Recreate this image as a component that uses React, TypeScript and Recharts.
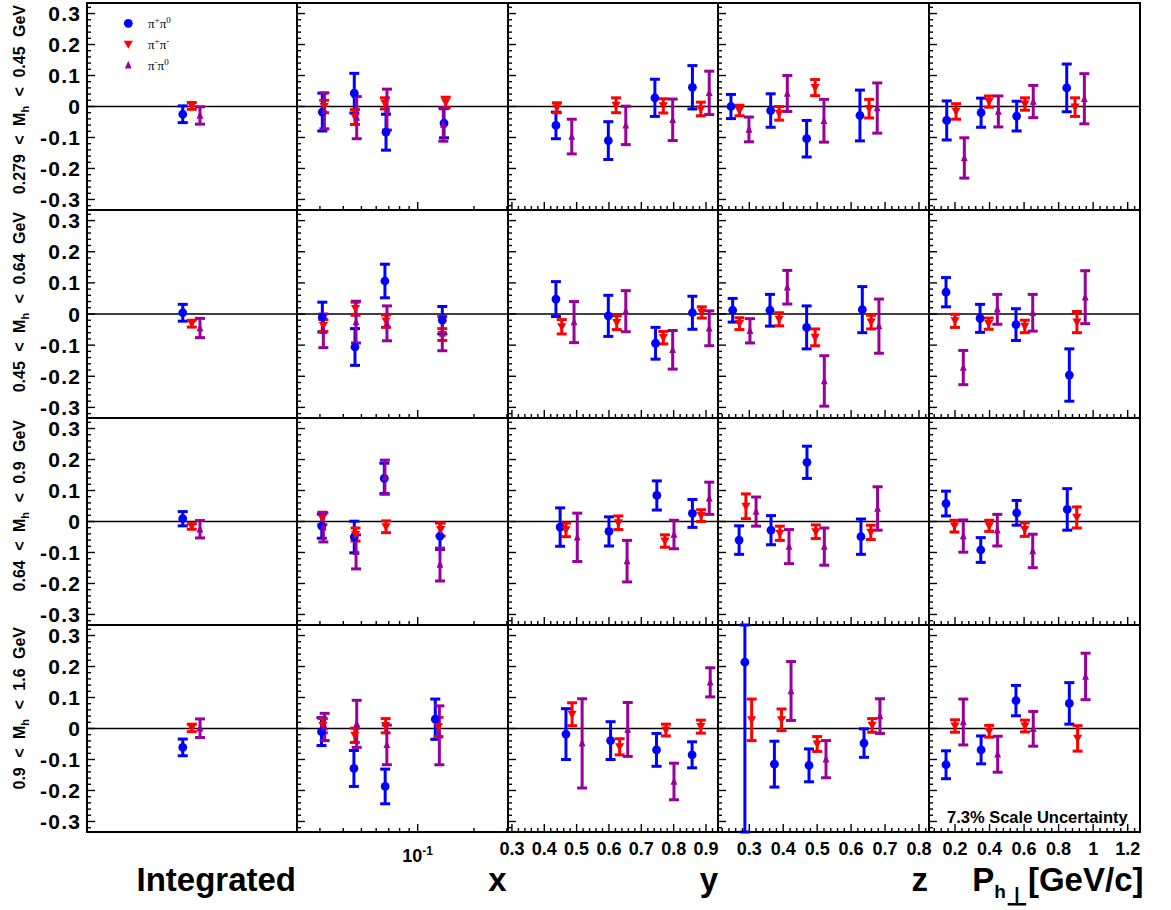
import React from 'react';
import { ScatterChart, Scatter, XAxis, YAxis, ErrorBar, ReferenceLine, ReferenceArea, Legend } from 'recharts';

const BLUE = '#0000ff';
const RED = '#ff0000';
const PURPLE = '#990099';
const SANS = '"Liberation Sans", Arial, Helvetica, sans-serif';
const SERIF = '"Liberation Serif", "Times New Roman", serif';

// ---------- text ----------
const seriesNames = ['π⁺π⁰', 'π⁺π⁻', 'π⁻π⁰'];
const seriesCharges = [['+', '0'], ['+', '-'], ['-', '0']];
const massLow = ['0.279', '0.45', '0.64', '0.9'];
const massHigh = ['0.45', '0.64', '0.9', '1.6'];
const colTitles = ['Integrated', 'x', 'y', 'z', 'P'];
const scaleNote = '7.3% Scale Uncertainty';

// ---------- ticks ----------
const yMajor = [-0.3, -0.2, -0.1, 0, 0.1, 0.2, 0.3];
const yMajorLabels = ['-0.3', '-0.2', '-0.1', '0', '0.1', '0.2', '0.3'];
const xLogTicks = [0.03, 0.04, 0.05, 0.06, 0.07, 0.08, 0.09, 0.1, 0.2, 0.3];
const xLogMajor = [0.1];
const xLogLabels = ['10^-1'];
const yBinMajor = [0.3, 0.4, 0.5, 0.6, 0.7, 0.8, 0.9];
const yBinLabels = ['0.3', '0.4', '0.5', '0.6', '0.7', '0.8', '0.9'];
const zBinMajor = [0.3, 0.4, 0.5, 0.6, 0.7, 0.8];
const zBinLabels = ['0.3', '0.4', '0.5', '0.6', '0.7', '0.8'];
const phMajor = [0.2, 0.4, 0.6, 0.8, 1.0, 1.2];
const phLabels = ['0.2', '0.4', '0.6', '0.8', '1', '1.2'];

const steps = (a: number, b: number, s: number) => {
  const out: number[] = [];
  for (let i = 0; a + i * s <= b + 1e-9; i++) out.push(+(a + i * s).toFixed(4));
  return out;
};
const yTicks = steps(-0.32, 0.32, 0.02);

// ---------- data: rows = Mh bins (top→bottom); points [x, asymmetry, error] ----------
// Integrated column
const integratedX = [0.456, 0.499, 0.538];
const intPipPi0 = [[-0.025, 0.027], [0.004, 0.027], [0.009, 0.023], [-0.061, 0.027]];
const intPipPim = [[0.002, 0.011], [-0.031, 0.011], [-0.016, 0.009], [0.002, 0.012]];
const intPimPi0 = [[-0.029, 0.028], [-0.045, 0.031], [-0.025, 0.028], [0.001, 0.03]];

// x bins
const xPipPi0 = [
  [[0.0309, -0.018, 0.061], [0.0458, 0.043, 0.064], [0.0677, -0.083, 0.058], [0.1383, -0.054, 0.047]],
  [[0.0309, -0.010, 0.048], [0.0462, -0.106, 0.059], [0.0668, 0.106, 0.054], [0.1354, -0.020, 0.044]],
  [[0.0307, -0.015, 0.039], [0.0458, -0.050, 0.051], [0.0663, 0.139, 0.049], [0.1316, -0.047, 0.043]],
  [[0.0306, -0.010, 0.045], [0.0456, -0.129, 0.058], [0.0670, -0.187, 0.056], [0.1242, 0.030, 0.065]],
];
const xPipPim = [
  [[0.0316, 0.000, 0.020], [0.0462, -0.034, 0.024], [0.0668, 0.010, 0.018], [0.1412, 0.013, 0.017]],
  [[0.0313, -0.037, 0.019], [0.0465, 0.017, 0.021], [0.0677, -0.023, 0.020], [0.1354, -0.066, 0.019]],
  [[0.0309, 0.010, 0.020], [0.0465, -0.042, 0.021], [0.0677, -0.017, 0.019], [0.1327, -0.026, 0.021]],
  [[0.0311, 0.009, 0.023], [0.0461, -0.022, 0.023], [0.0674, 0.009, 0.023], [0.1292, 0.005, 0.031]],
];
const xPimPi0 = [
  [[0.0317, -0.014, 0.058], [0.0472, -0.036, 0.068], [0.0685, -0.010, 0.066], [0.1371, -0.058, 0.054]],
  [[0.0313, -0.054, 0.054], [0.0468, -0.026, 0.067], [0.0685, -0.030, 0.056], [0.1354, -0.063, 0.055]],
  [[0.0313, -0.019, 0.047], [0.0468, -0.098, 0.055], [0.0668, 0.143, 0.055], [0.1316, -0.139, 0.053]],
  [[0.0318, 0.005, 0.044], [0.0472, 0.015, 0.076], [0.0684, -0.053, 0.064], [0.1306, -0.022, 0.095]],
];

// y bins
const yPipPi0 = [
  [[0.436, -0.061, 0.043], [0.598, -0.110, 0.061], [0.742, 0.028, 0.060], [0.858, 0.062, 0.070]],
  [[0.436, 0.048, 0.056], [0.598, -0.006, 0.066], [0.744, -0.094, 0.051], [0.858, 0.004, 0.053]],
  [[0.449, -0.018, 0.062], [0.600, -0.032, 0.047], [0.748, 0.084, 0.047], [0.858, 0.026, 0.045]],
  [[0.467, -0.018, 0.082], [0.605, -0.039, 0.061], [0.747, -0.069, 0.053], [0.857, -0.085, 0.042]],
];
const yPipPim = [
  [[0.439, -0.004, 0.016], [0.622, 0.004, 0.024], [0.768, 0.002, 0.023], [0.884, -0.008, 0.022]],
  [[0.454, -0.041, 0.023], [0.624, -0.028, 0.022], [0.768, -0.076, 0.020], [0.887, 0.005, 0.018]],
  [[0.467, -0.027, 0.022], [0.629, -0.004, 0.022], [0.773, -0.063, 0.020], [0.885, 0.019, 0.019]],
  [[0.486, 0.046, 0.037], [0.633, -0.059, 0.026], [0.776, -0.005, 0.019], [0.884, 0.006, 0.021]],
];
const yPimPi0 = [
  [[0.485, -0.097, 0.056], [0.652, -0.061, 0.062], [0.797, -0.043, 0.067], [0.910, 0.044, 0.070]],
  [[0.492, -0.026, 0.066], [0.652, 0.009, 0.066], [0.797, -0.115, 0.062], [0.910, -0.046, 0.056]],
  [[0.502, -0.051, 0.078], [0.656, -0.128, 0.067], [0.801, -0.042, 0.046], [0.910, 0.075, 0.052]],
  [[0.517, -0.048, 0.144], [0.658, -0.003, 0.087], [0.801, -0.171, 0.059], [0.913, 0.149, 0.047]],
];

// z bins
const zPipPi0 = [
  [[0.246, 0.000, 0.039], [0.363, -0.013, 0.054], [0.469, -0.104, 0.059], [0.626, -0.029, 0.082]],
  [[0.251, 0.012, 0.038], [0.361, 0.012, 0.051], [0.469, -0.043, 0.069], [0.633, 0.014, 0.074]],
  [[0.270, -0.060, 0.046], [0.364, -0.028, 0.047], [0.470, 0.191, 0.052], [0.629, -0.049, 0.057]],
  [[0.287, 0.214, 0.580], [0.374, -0.115, 0.074], [0.476, -0.119, 0.053], [0.638, -0.047, 0.046]],
];
const zPipPim = [
  [[0.271, -0.013, 0.017], [0.388, -0.022, 0.022], [0.494, 0.061, 0.026], [0.653, -0.007, 0.030]],
  [[0.271, -0.031, 0.019], [0.388, -0.017, 0.021], [0.494, -0.075, 0.027], [0.659, -0.026, 0.022]],
  [[0.290, 0.049, 0.040], [0.390, -0.038, 0.023], [0.496, -0.033, 0.022], [0.658, -0.035, 0.023]],
  [[0.307, 0.028, 0.067], [0.395, 0.028, 0.035], [0.500, -0.050, 0.024], [0.662, 0.010, 0.022]],
];
const zPimPi0 = [
  [[0.299, -0.074, 0.040], [0.412, 0.042, 0.058], [0.520, -0.046, 0.069], [0.677, -0.005, 0.081]],
  [[0.302, -0.054, 0.039], [0.412, 0.086, 0.054], [0.521, -0.215, 0.081], [0.682, -0.039, 0.087]],
  [[0.320, 0.032, 0.047], [0.417, -0.081, 0.055], [0.521, -0.081, 0.060], [0.678, 0.042, 0.070]],
  [null, [0.423, 0.121, 0.095], [0.526, -0.099, 0.060], [0.685, 0.040, 0.056]],
];

// Ph-perp bins
const phPipPi0 = [
  [[0.152, -0.045, 0.063], [0.351, -0.020, 0.047], [0.557, -0.031, 0.048], [0.847, 0.060, 0.077]],
  [[0.148, 0.070, 0.047], [0.345, -0.014, 0.045], [0.553, -0.034, 0.051], [0.862, -0.196, 0.084]],
  [[0.148, 0.058, 0.040], [0.349, -0.092, 0.040], [0.557, 0.028, 0.040], [0.850, 0.039, 0.067]],
  [[0.148, -0.117, 0.045], [0.351, -0.069, 0.045], [0.553, 0.090, 0.049], [0.862, 0.081, 0.067]],
];
const phPipPim = [
  [[0.206, -0.016, 0.025], [0.397, 0.016, 0.018], [0.605, 0.008, 0.020], [0.895, -0.002, 0.030]],
  [[0.200, -0.022, 0.021], [0.395, -0.031, 0.018], [0.604, -0.040, 0.020], [0.906, -0.026, 0.034]],
  [[0.197, -0.015, 0.019], [0.398, -0.014, 0.018], [0.604, -0.026, 0.022], [0.905, 0.013, 0.034]],
  [[0.200, 0.008, 0.020], [0.398, -0.009, 0.019], [0.605, 0.008, 0.019], [0.910, -0.032, 0.041]],
];
const phPimPi0 = [
  [[0.254, -0.166, 0.065], [0.451, -0.016, 0.050], [0.653, 0.016, 0.052], [0.949, 0.025, 0.081]],
  [[0.248, -0.172, 0.055], [0.445, 0.015, 0.048], [0.650, 0.004, 0.059], [0.954, 0.054, 0.085]],
  [[0.248, -0.047, 0.052], [0.445, -0.028, 0.051], [0.650, -0.095, 0.054], null],
  [[0.248, 0.021, 0.074], [0.447, -0.083, 0.058], [0.653, -0.001, 0.056], [0.956, 0.168, 0.075]],
];

// ---------- layout ----------
const colEdges = [87, 297, 508, 718, 929, 1140];
const rowEdges = [3, 210, 418, 625, 832];
const Y_DOMAIN: [number, number] = [-0.334, 0.334];
const colDomains: [number, number][] = [
  [0, 1],
  [0.02262, 0.3041],
  [0.2878, 0.9371],
  [0.2078, 0.8295],
  [0.0494, 1.2712],
];
const colTickSets: (number[] | null)[] = [
  null,
  xLogTicks,
  steps(0.3, 0.92, 0.02),
  steps(0.22, 0.82, 0.02),
  steps(0.08, 1.24, 0.04),
];
const colMajor = [[], xLogMajor, yBinMajor, zBinMajor, phMajor];
const colLabels = [[], xLogLabels, yBinLabels, zBinLabels, phLabels];
const titleShift = [-1, -1.5, 0, -1, 3.5];

const intTables = [intPipPi0, intPipPim, intPimPi0];
const integratedRows = (s: number) => intTables[s].map(([v, e]) => [[integratedX[s], v, e]]);
const columnSeries: any[][] = [
  [0, 1, 2].map(integratedRows),
  [xPipPi0, xPipPim, xPimPi0],
  [yPipPi0, yPipPim, yPimPi0],
  [zPipPi0, zPipPim, zPimPi0],
  [phPipPi0, phPipPim, phPimPi0],
];
const seriesColors = [BLUE, RED, PURPLE];

// error bars are limited to the visible frame (they run off the pad in the original)
const toPoints = (rows: any[]) =>
  rows
    .filter((p: any) => p)
    .map(([x, y, err]: number[]) => ({
      x,
      y,
      err: [Math.min(err, y - Y_DOMAIN[0]), Math.min(err, Y_DOMAIN[1] - y)],
    }));

// ---------- marker shapes ----------
const CircleMark = (p: any) => <circle cx={p.cx} cy={p.cy} r={4.4} fill={BLUE} />;
const DownTri = (p: any) => (
  <path d={`M${p.cx - 4.6},${p.cy - 3.6}L${p.cx + 4.6},${p.cy - 3.6}L${p.cx},${p.cy + 4.4}Z`} fill={RED} />
);
const UpTri = (p: any) => (
  <path d={`M${p.cx - 3.4},${p.cy + 3.2}L${p.cx + 3.4},${p.cy + 3.2}L${p.cx},${p.cy - 4.6}Z`} fill={PURPLE} />
);
const shapes = [CircleMark, DownTri, UpTri];

// ---------- ticks ----------
const isIn = (arr: number[], v: number) => arr.findIndex((m) => Math.abs(m - v) < 1e-6);

function XTick(props: any) {
  const { x, y, payload, major, labels, showLabels } = props;
  const idx = isIn(major, payload.value);
  const isMajor = idx >= 0;
  const lab: string = isMajor ? labels[idx] : '';
  let text: any = null;
  if (showLabels && isMajor) {
    if (lab.includes('^')) {
      const [base, exp] = lab.split('^');
      text = (
        <text x={x} y={y + 29.7} textAnchor="middle" fontFamily={SANS} fontWeight="bold" fontSize={18}>
          {base}
          <tspan fontSize={12} dy={-6.7}>{exp}</tspan>
        </text>
      );
    } else {
      text = (
        <text x={x} y={y + 23} textAnchor="middle" fontFamily={SANS} fontWeight="bold" fontSize={18}>
          {lab}
        </text>
      );
    }
  }
  return (
    <g>
      <line x1={x} y1={y} x2={x} y2={y - (isMajor ? 8 : 4)} stroke="#000" strokeWidth={1.4} />
      {text}
    </g>
  );
}

function YTick(props: any) {
  const { x, y, payload, showLabels } = props;
  const idx = isIn(yMajor, payload.value);
  const isMajor = idx >= 0;
  return (
    <g>
      <line x1={x} y1={y} x2={x + (isMajor ? 8 : 4)} y2={y} stroke="#000" strokeWidth={1.4} />
      {showLabels && isMajor && (
        <text
          x={x - 5.7}
          y={y}
          dy="0.36em"
          textAnchor="end"
          fontFamily={SANS}
          fontWeight="bold"
          fontSize={21}
          letterSpacing={1.3}
        >
          {yMajorLabels[idx]}
        </text>
      )}
    </g>
  );
}

// ---------- titles ----------
function RowTitle(props: any) {
  const { viewBox, r } = props;
  const x = viewBox.x + viewBox.width - 62;
  const y = viewBox.y + 2;
  return (
    <text
      x={x}
      y={y}
      transform={`rotate(-90 ${x} ${y})`}
      textAnchor="end"
      fontFamily={SANS}
      fontWeight="bold"
      fontSize={16}
      style={{ wordSpacing: '5px' }}
    >
      {`${massLow[r]} < M`}
      <tspan fontSize={11} dy={4}>h</tspan>
      <tspan dy={-4}>{` < ${massHigh[r]} GeV`}</tspan>
    </text>
  );
}

function ColTitle(props: any) {
  const { viewBox, c } = props;
  const x = viewBox.x + viewBox.width + titleShift[c];
  const y = viewBox.y + 59;
  if (c === 4) {
    return (
      <text x={x} y={y} textAnchor="end" fontFamily={SANS} fontWeight="bold" fontSize={33}>
        {colTitles[c]}
        <tspan fontSize={19} dy={7}>h</tspan>
        <tspan fontSize={25} dy={6.5}>⊥</tspan>
        <tspan dy={-13.5}>[GeV/c]</tspan>
      </text>
    );
  }
  return (
    <text x={x} y={y} textAnchor="end" fontFamily={SANS} fontWeight="bold" fontSize={33}>
      {colTitles[c]}
    </text>
  );
}

function ScaleNote(props: any) {
  const { viewBox } = props;
  return (
    <text
      x={viewBox.x + 18}
      y={viewBox.y + viewBox.height - 9}
      fontFamily={SANS}
      fontWeight="bold"
      fontSize={16.5}
    >
      {scaleNote}
    </text>
  );
}

function LegendBox() {
  return (
    <svg width={90} height={72}>
      {seriesNames.map((name, i) => {
        const cy = 17.3 + i * 21;
        const Mark = shapes[i];
        const [a, b] = seriesCharges[i];
        return (
          <g key={name}>
            <Mark cx={20.3} cy={cy} />
            <text x={40} y={cy + 4.5} fontFamily={SERIF} fontSize={13}>
              π<tspan fontSize={9} dy={-5}>{a}</tspan>
              <tspan fontSize={13} dy={5}>π</tspan>
              <tspan fontSize={9} dy={-5}>{b}</tspan>
            </text>
          </g>
        );
      })}
    </svg>
  );
}

// ---------- panel ----------
function Panel({ r, c }: { r: number; c: number }) {
  const mL = c === 0 ? 87 : 15;
  const mR = c === 4 ? 32 : 15;
  const mT = r === 0 ? 3 : 10;
  const mB = r === 3 ? 78 : 10;
  const pw = colEdges[c + 1] - colEdges[c];
  const ph = rowEdges[r + 1] - rowEdges[r];
  const dom = colDomains[c];
  const ticks = colTickSets[c];
  return (
    <div style={{ position: 'absolute', left: colEdges[c] - mL, top: rowEdges[r] - mT }}>
      <ScatterChart
        width={pw + mL + mR}
        height={ph + mT + mB}
        margin={{ top: mT, right: mR, bottom: mB - 1, left: mL - 1 }}
      >
        <XAxis
          type="number"
          dataKey="x"
          domain={dom}
          scale={c === 1 ? 'log' : 'linear'}
          allowDataOverflow
          ticks={ticks || undefined}
          interval={0}
          height={1}
          axisLine={false}
          tickLine={false}
          tickSize={0}
          tickMargin={0}
          tick={
            ticks ? <XTick major={colMajor[c]} labels={colLabels[c]} showLabels={r === 3} /> : false
          }
          label={r === 3 ? <ColTitle c={c} /> : undefined}
        />
        <YAxis
          type="number"
          dataKey="y"
          domain={Y_DOMAIN}
          allowDataOverflow
          ticks={yTicks}
          interval={0}
          width={1}
          axisLine={false}
          tickLine={false}
          tickSize={0}
          tickMargin={0}
          tick={<YTick showLabels={c === 0} />}
          label={c === 0 ? <RowTitle r={r} /> : undefined}
        />
        <ReferenceLine y={0} stroke="#000" strokeWidth={1.3} />
        {[0, 1, 2].map((s) => (
          <Scatter
            key={s}
            name={seriesNames[s]}
            data={toPoints(columnSeries[c][s][r])}
            fill={seriesColors[s]}
            shape={shapes[s]}
            isAnimationActive={false}
          >
            <ErrorBar dataKey="err" direction="y" width={5} strokeWidth={3} stroke={seriesColors[s]} isAnimationActive={false} />
          </Scatter>
        ))}
        <ReferenceArea
          x1={dom[0]}
          x2={dom[1]}
          y1={Y_DOMAIN[0]}
          y2={Y_DOMAIN[1]}
          fill="none"
          fillOpacity={0}
          stroke="#000"
          strokeWidth={2}
          ifOverflow="visible"
          label={r === 3 && c === 4 ? <ScaleNote /> : undefined}
        />
        {r === 0 && c === 0 && (
          <Legend
            layout="vertical"
            align="center"
            verticalAlign="middle"
            wrapperStyle={{ left: 108, top: 6, width: 90, height: 72 }}
            content={<LegendBox />}
          />
        )}
      </ScatterChart>
    </div>
  );
}

export default function App() {
  const rows = [0, 1, 2, 3];
  const cols = [0, 1, 2, 3, 4];
  return (
    <div style={{ position: 'absolute', left: 0, top: 0, width: 1171, height: 910, background: '#fff' }}>
      {rows.map((r) => cols.map((c) => <Panel key={`${r}-${c}`} r={r} c={c} />))}
    </div>
  );
}
